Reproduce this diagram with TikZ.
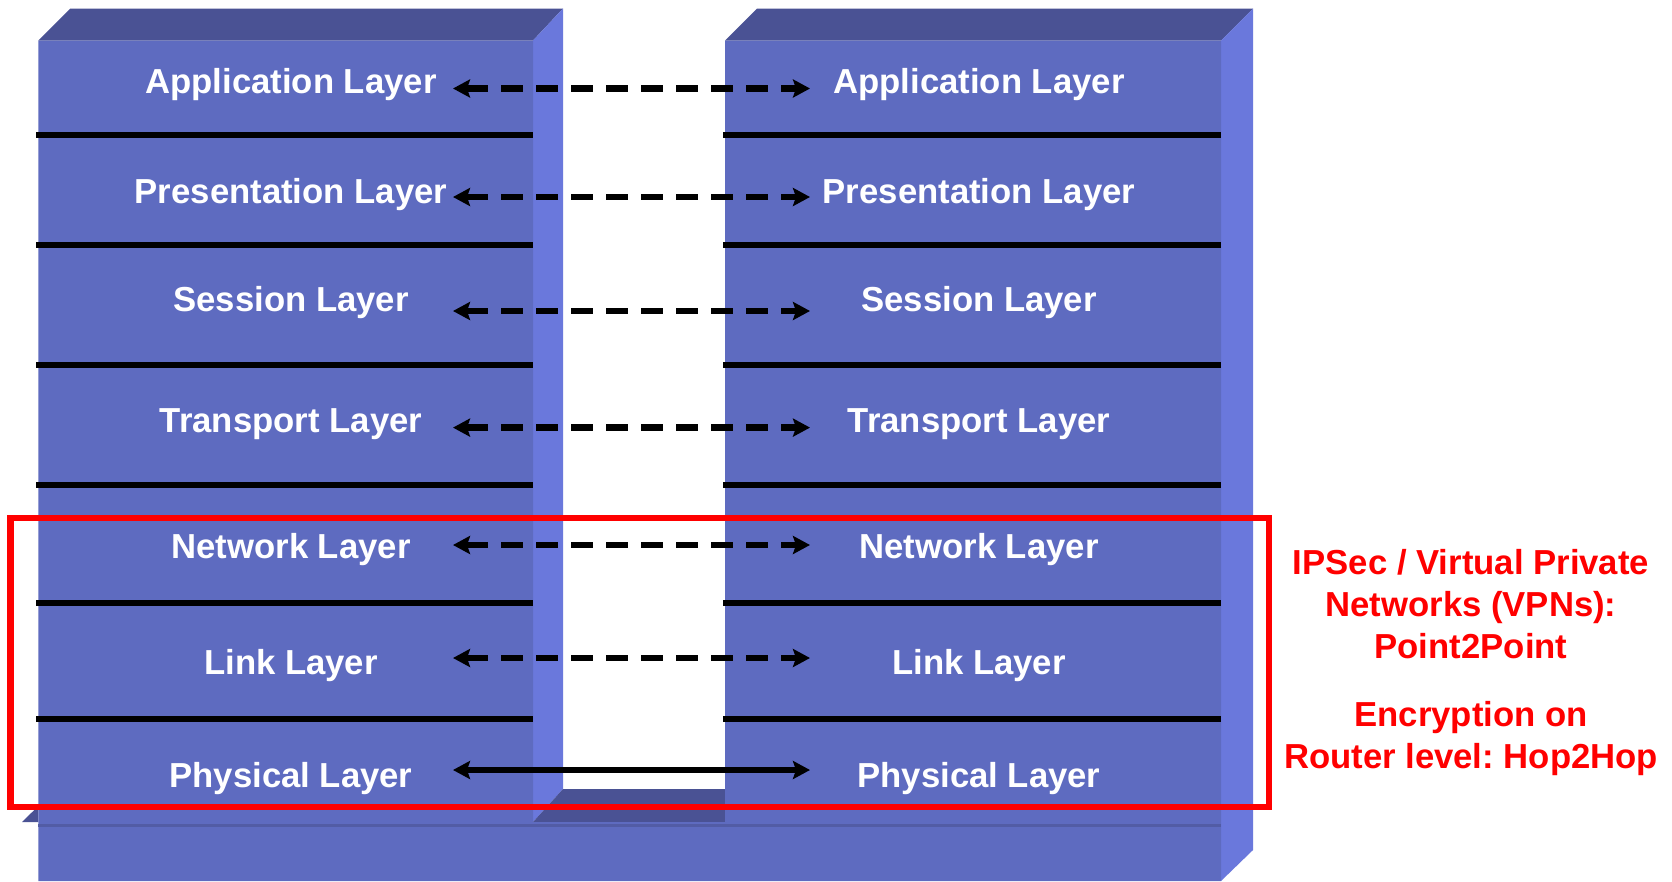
\documentclass[tikz,border=0pt]{standalone}
\usepackage{fontspec}
\setmainfont{Liberation Sans}
\usetikzlibrary{arrows.meta}
\definecolor{faceblue}{RGB}{94,107,192}
\definecolor{topblue}{RGB}{74,82,148}
\definecolor{sideblue}{RGB}{106,120,220}
\definecolor{vpnred}{RGB}{255,0,0}
\frenchspacing
\begin{document}
\begin{tikzpicture}[x=1pt,y=-1pt,
  layertext/.style={text=white,font=\fontsize{34.7}{42}\selectfont\bfseries,inner sep=0pt},
  divider/.style={line width=6pt,black},
  peer/.style={line width=6.5pt,black,{Stealth[length=17pt,width=18pt,inset=3pt]}-{Stealth[length=17pt,width=18pt,inset=3pt]}},
  virtual/.style={peer,dash pattern=on 22pt off 13pt},
  note/.style={text=vpnred,font=\fontsize{34.7}{42}\selectfont\bfseries,align=center,inner sep=0pt},
]
\useasboundingbox (0,0) rectangle (1672,881);
\fill[white] (0,0) rectangle (1672,881);

% top faces of the two stacks
\fill[topblue] (38.4,40.5) -- (70.4,8.5) -- (563,8.5) -- (533,40.5) -- cycle;
\fill[topblue] (725,40.5) -- (757,8.5) -- (1253,8.5) -- (1221,40.5) -- cycle;
% side faces
\fill[sideblue] (533,40.5) -- (563,8.5) -- (563,789) -- (533,822) -- cycle;
\fill[sideblue] (1221,40.5) -- (1253,8.5) -- (1253,850) -- (1221,881) -- cycle;
% top of the base between the stacks
\fill[topblue] (533,822) -- (563,789) -- (725,789) -- (725,822) -- cycle;
\fill[topblue] (22,822) -- (38.4,806) -- (38.4,822) -- cycle;
% front faces: both stacks and the base
\fill[faceblue] (38.4,40.5) -- (533,40.5) -- (533,822) -- (725,822) -- (725,40.5)
  -- (1221,40.5) -- (1221,881) -- (38.4,881) -- cycle;
\draw[topblue!60!faceblue,line width=3pt] (38.4,825) -- (1221,825);

% layer dividers
\foreach \y in {135.4,245,364.7,485,602.5,718.7}{
  \draw[divider] (36,\y) -- (533,\y);
  \draw[divider] (723,\y) -- (1221,\y);
}

% layer names and peer-to-peer links
\foreach \n/\t/\ty/\ay in {1/Application Layer/85/88.5,2/Presentation Layer/195/197,
    3/Session Layer/302.6/311,4/Transport Layer/424/427.6,5/Network Layer/550/545,
    6/Link Layer/666/658,7/Physical Layer/779/770}{
  \node[layertext] (L\n) at (291,\ty) {\t};
  \node[layertext] (R\n) at (979,\ty) {\t};
  \coordinate (pL\n) at (453,\ay);
  \coordinate (pR\n) at (810,\ay);
}
\foreach \n in {1,...,6}{
  \draw[virtual] (pL\n) -- (pR\n);
}
\draw[peer] (pL7) -- (pR7);

% VPN scope
\draw[vpnred,line width=6.5pt] (10.7,518) rectangle (1269,807);
\node[note,anchor=north] (vpn) at (1471,549) {IPSec / Virtual Private\\Networks (VPNs):\\Point2Point\\[26pt]Encryption on\\Router level: Hop2Hop};
\end{tikzpicture}
\end{document}
